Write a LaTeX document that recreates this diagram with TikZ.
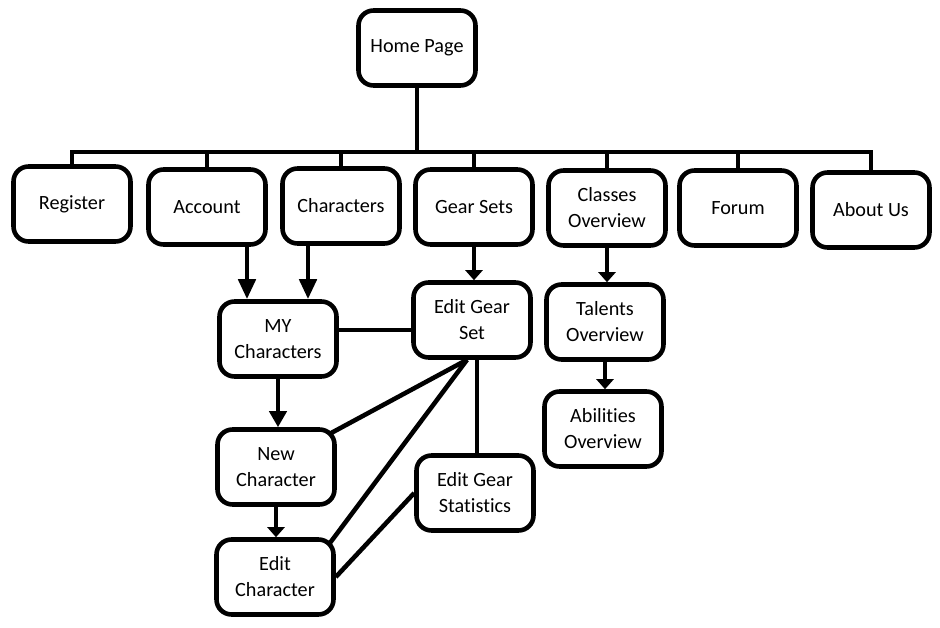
\documentclass[tikz,border=0pt]{standalone}
\usepackage{fontspec}
\setmainfont{Carlito}[Ligatures=NoCommon]
\usetikzlibrary{arrows.meta}

\tikzset{
    page/.style={draw, line width=2.6pt, rounded corners=0.3cm, minimum width=2.34cm,
        minimum height=1.5cm, align=center, inner sep=2pt,
        font=\fontsize{11.5}{14.8}\selectfont},
    link/.style={line width=2.6pt},
    bigarr/.style={link, -{Triangle[length=0.4cm,width=0.34cm]}},
    midarr/.style={link, -{Triangle[length=0.32cm,width=0.34cm]}},
    smallarr/.style={link, -{Triangle[length=0.2cm,width=0.34cm]}}
}

\begin{document}
\begin{tikzpicture}[x=0.02cm, y=-0.02cm]
            \useasboundingbox (0,0) rectangle (940,628);
            % ==== HOME ====
            \node[page] (home) at (417,48) {Home Page};
            \coordinate (bus) at (417,152);

            % ==== TOP ROW ====
            \node[page] (reg) at (72,204) {Register};
            \node[page] (acc) at (207,207) {Account};
            \node[page] (chars) at (341,206) {Characters};
            \node[page] (gear) at (474,207) {Gear Sets};
            \node[page] (classes) at (607,208) {Classes\\Overview};
            \node[page] (forum) at (738,208) {Forum};
            \node[page] (about) at (871,210) {About Us};

            % ==== SUB PAGES ====
            \node[page] (mychar) at (278,339) {MY\\Characters};
            \node[page] (newc) at (276,467) {New\\Character};
            \node[page] (editc) at (275,577) {Edit\\Character};
            \node[page] (egs) at (472,320) {Edit Gear\\Set};
            \node[page] (estat) at (475,493) {Edit Gear\\Statistics};
            \node[page] (talents) at (605,322) {Talents\\Overview};
            \node[page] (abil) at (603,429) {Abilities\\Overview};

            % ==== BUS ====
            \draw[link] (home.south) -- (bus);
            \draw[link] (reg.north) |- (about.north |- bus) -- (about.north);
            \draw[link] (acc.north) -- (acc.north |- bus);
            \draw[link] (chars.north) -- (chars.north |- bus);
            \draw[link] (gear.north) -- (gear.north |- bus);
            \draw[link] (classes.north) -- (classes.north |- bus);
            \draw[link] (forum.north) -- (forum.north |- bus);

            % ==== ARROWS ====
            \draw[bigarr] ([xshift=0.8cm]acc.south) -- ([xshift=0.8cm]acc.south |- mychar.north);
            \draw[bigarr] ([xshift=-0.66cm]chars.south) -- ([xshift=-0.66cm]chars.south |- mychar.north);
            \draw[midarr] (mychar.south) -- (mychar.south |- newc.north);
            \draw[smallarr] (newc.south) -- (newc.south |- editc.north);
            \draw[smallarr] (gear.south) -- (gear.south |- egs.north);
            \draw[smallarr] (classes.south) -- (classes.south |- talents.north);
            \draw[smallarr] (talents.south) -- (talents.south |- abil.north);

            % ==== LINKS ====
            \draw[link] ([yshift=-0.2cm]egs.west) -- ([yshift=-0.2cm]egs.west -| mychar.east);
            \draw[link] ([xshift=-0.1cm]egs.south) -- ([shift={(-0.12cm,-0.12cm)}]newc.north east);
            \draw[link] ([xshift=-0.1cm]egs.south) -- ([shift={(-0.12cm,-0.12cm)}]editc.north east);
            \draw[link] ([xshift=0.1cm]egs.south) -- ([xshift=0.1cm]egs.south |- estat.north);
            \draw[link] (estat.west) -- (editc.east);
\end{tikzpicture}
\end{document}
